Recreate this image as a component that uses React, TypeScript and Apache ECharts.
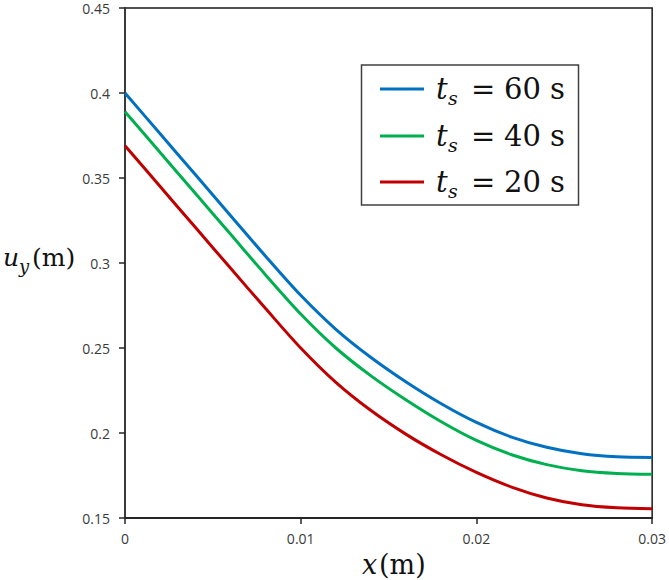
import React, { useEffect, useRef } from "react";
import * as echarts from "echarts";

const xValues = [0, 0.002, 0.004, 0.006, 0.008, 0.01, 0.012, 0.014, 0.016, 0.018, 0.02, 0.022, 0.024, 0.026, 0.028, 0.03];
const ts60 = [0.4, 0.376, 0.352, 0.328, 0.304, 0.281, 0.261, 0.2444, 0.23, 0.2172, 0.2062, 0.1976, 0.1916, 0.1878, 0.186, 0.1856];
const ts40 = [0.389, 0.365, 0.341, 0.317, 0.293, 0.27, 0.25, 0.2336, 0.2194, 0.2066, 0.1956, 0.1872, 0.1814, 0.1778, 0.1762, 0.1757];
const ts20 = [0.369, 0.345, 0.321, 0.297, 0.2732, 0.25, 0.2298, 0.2132, 0.1992, 0.1872, 0.1768, 0.1682, 0.1618, 0.1578, 0.156, 0.1554];
const tsValues = [60, 40, 20];
const seriesNames = ["t_s = 60 s", "t_s = 40 s", "t_s = 20 s"];
const colors = ["#0070C0", "#00B050", "#C00000"];
const yTicks = { min: 0.15, max: 0.45, interval: 0.05 };
const xTicks = { min: 0, max: 0.03, interval: 0.01 };

export default function App() {
  const ref = useRef<HTMLDivElement>(null);
  useEffect(() => {
    if (!ref.current) return;
    const chart = echarts.init(ref.current, null, { renderer: "svg" });
    const allSeries = [ts60, ts40, ts20];
    const serif = "'DejaVu Serif', serif";
    const legendRows = [89, 136, 182];
    const legendGraphics: any[] = [
      {
        type: "rect",
        shape: { x: 361.5, y: 65, width: 217, height: 140 },
        style: { fill: "#fff", stroke: "#404040", lineWidth: 1.5 },
        z: 10,
      },
    ];
    tsValues.forEach((v, i) => {
      const cy = legendRows[i];
      legendGraphics.push(
        {
          type: "line",
          shape: { x1: 380, y1: cy, x2: 424, y2: cy },
          style: { stroke: colors[i], lineWidth: 3 },
          z: 11,
        },
        {
          type: "text",
          x: 436,
          y: cy,
          style: { text: "t", font: `italic 29px ${serif}`, fill: "#111", verticalAlign: "middle", align: "left" },
          z: 11,
        },
        {
          type: "text",
          x: 448,
          y: cy + 9,
          style: { text: "s", font: `italic 19px ${serif}`, fill: "#111", verticalAlign: "middle", align: "left" },
          z: 11,
        },
        {
          type: "text",
          x: 471,
          y: cy,
          style: { text: "=", font: `29px ${serif}`, fill: "#111", verticalAlign: "middle", align: "left" },
          z: 11,
        },
        {
          type: "text",
          x: 504,
          y: cy,
          style: { text: `${v} s`, font: `29px ${serif}`, fill: "#111", verticalAlign: "middle", align: "left" },
          z: 11,
        }
      );
    });

    const option: any = {
      animation: false,
      grid: {
        left: 125,
        right: 15,
        top: 8,
        bottom: 62,
        show: true,
        borderColor: "#1a1a1a",
        borderWidth: 1.5,
        backgroundColor: "transparent",
      },
      xAxis: {
        type: "value",
        min: xTicks.min,
        max: xTicks.max,
        interval: xTicks.interval,
        axisLine: { show: true, onZero: false, lineStyle: { color: "#262626", width: 2 } },
        axisTick: { show: true, length: 6, lineStyle: { color: "#262626", width: 1.5 } },
        axisLabel: {
          margin: 13,
          color: "#3a3a3a",
          fontSize: 14,
          fontFamily: "'Open Sans', sans-serif",
          formatter: (v: number) => String(Number(v.toFixed(3))),
        },
        splitLine: { show: false },
      },
      yAxis: {
        type: "value",
        min: yTicks.min,
        max: yTicks.max,
        interval: yTicks.interval,
        axisLine: { show: true, onZero: false, lineStyle: { color: "#3a3a3a", width: 2 } },
        axisTick: { show: true, length: 6, lineStyle: { color: "#262626", width: 1.5 } },
        axisLabel: {
          margin: 15,
          color: "#3a3a3a",
          fontSize: 14,
          lineHeight: 12,
          fontFamily: "'Open Sans', sans-serif",
          formatter: (v: number) => String(Number(v.toFixed(3))),
        },
        splitLine: { show: false },
      },
      series: allSeries.map((arr, i) => ({
        name: seriesNames[i],
        type: "line",
        data: xValues.map((x, j) => [x, arr[j]]),
        smooth: 0.3,
        showSymbol: false,
        lineStyle: { color: colors[i], width: 3 },
        itemStyle: { color: colors[i] },
        z: 3 - i,
      })),
      graphic: [
        // y-axis title
        {
          type: "text",
          x: 3,
          y: 257,
          style: { text: "u", font: `italic 25px ${serif}`, fill: "#111", verticalAlign: "middle", align: "left" },
        },
        {
          type: "text",
          x: 19,
          y: 266,
          style: { text: "y", font: `italic 18px ${serif}`, fill: "#111", verticalAlign: "middle", align: "left" },
        },
        {
          type: "text",
          x: 32,
          y: 257,
          style: { text: "(m)", font: `25px ${serif}`, fill: "#111", verticalAlign: "middle", align: "left" },
        },
        // x-axis title
        {
          type: "text",
          x: 362,
          y: 564,
          style: { text: "x", font: `italic 27px ${serif}`, fill: "#111", verticalAlign: "middle", align: "left" },
        },
        {
          type: "text",
          x: 379,
          y: 564,
          style: { text: "(m)", font: `27px ${serif}`, fill: "#111", verticalAlign: "middle", align: "left" },
        },
        ...legendGraphics,
      ],
    };
    chart.setOption(option);
    return () => chart.dispose();
  }, []);
  return (
    <div
      ref={ref}
      style={{ position: "absolute", left: 0, top: 0, width: 669, height: 580, background: "#fff" }}
    />
  );
}
